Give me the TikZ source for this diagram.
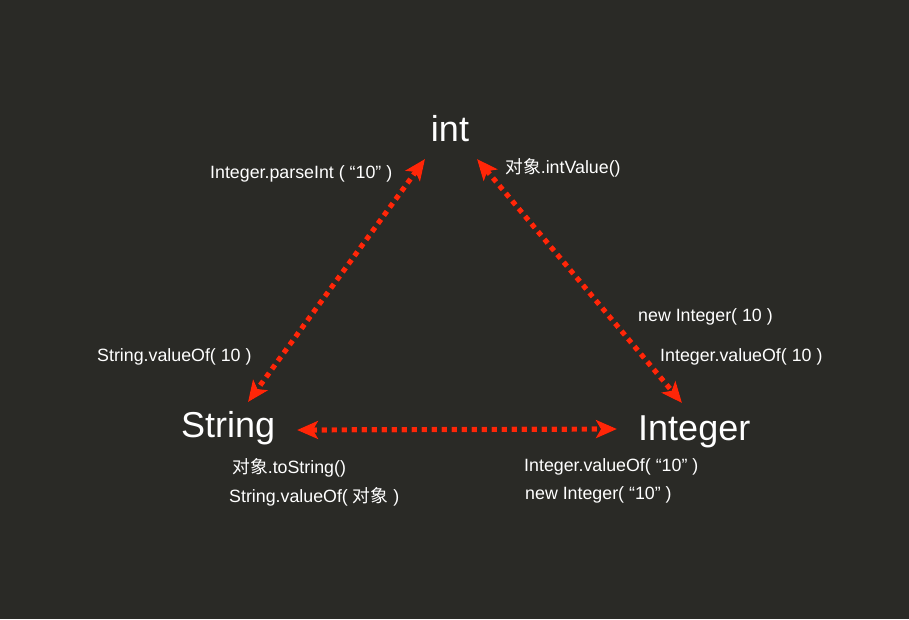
\documentclass[tikz,border=0pt]{standalone}
\usepackage{fontspec}
\setmainfont{Liberation Sans}
\newfontfamily\cjk{Noto Sans CJK SC}
\usetikzlibrary{arrows.meta}
\definecolor{bg}{RGB}{42,42,38}
\definecolor{arrred}{RGB}{255,38,8}
\tikzset{
  big/.style={text=white,font=\fontsize{36}{40}\selectfont,inner sep=0pt},
  lbl/.style={text=white,font=\fontsize{17.8}{20}\selectfont,inner sep=0pt,anchor=west},
  conv/.style={arrred,line width=5.2pt,dash pattern=on 5.2pt off 4.8pt,
    {Stealth[length=21pt,width=18pt,inset=5pt]}-{Stealth[length=21pt,width=18pt,inset=5pt]}},
  convshadow/.style={black,opacity=0.55,line width=5.2pt,dash pattern=on 5.2pt off 4.8pt,
    {Stealth[length=21pt,width=18pt,inset=5pt]}-{Stealth[length=21pt,width=18pt,inset=5pt]}}
}
\begin{document}
\begin{tikzpicture}[x=1pt,y=-1pt]
\fill[bg] (0,0) rectangle (909,619);
\useasboundingbox (0,0) rectangle (909,619);
% main nodes
\node[big] (int) at (450,129) {int};
\node[big,anchor=west] (str) at (181,428) {String};
\node[big,anchor=west] (integer) at (638,432) {Integer};
% labels
\node[lbl] (l1) at (210,174) {Integer.parseInt ( “10” )};
\node[lbl] (l2) at (505,168) {{\cjk 对象}.intValue()};
\node[lbl] (l3) at (638,317) {new Integer( 10 )};
\node[lbl] (l4) at (660,357) {Integer.valueOf( 10 )};
\node[lbl] (l5) at (97,357) {String.valueOf( 10 )};
\node[lbl] (l6) at (232,468) {{\cjk 对象}.toString()};
\node[lbl] (l7) at (229,497) {String.valueOf( {\cjk 对象} )};
\node[lbl] (l8) at (524,467) {Integer.valueOf( “10” )};
\node[lbl] (l9) at (525,495) {new Integer( “10” )};
% arrow endpoints
\coordinate (iS) at (425,159);
\coordinate (sI) at (248,402);
\coordinate (iI) at (477,159);
\coordinate (gI) at (682,403);
\coordinate (sG) at (297,430);
\coordinate (gS) at (617,429);
% shadows
\begin{scope}[shift={(2,2.5)}]
\draw[convshadow] (iS) -- (sI);
\draw[convshadow] (iI) -- (gI);
\draw[convshadow] (sG) -- (gS);
\end{scope}
% arrows
\draw[conv] (iS) -- (sI);
\draw[conv] (iI) -- (gI);
\draw[conv] (sG) -- (gS);
\end{tikzpicture}
\end{document}
